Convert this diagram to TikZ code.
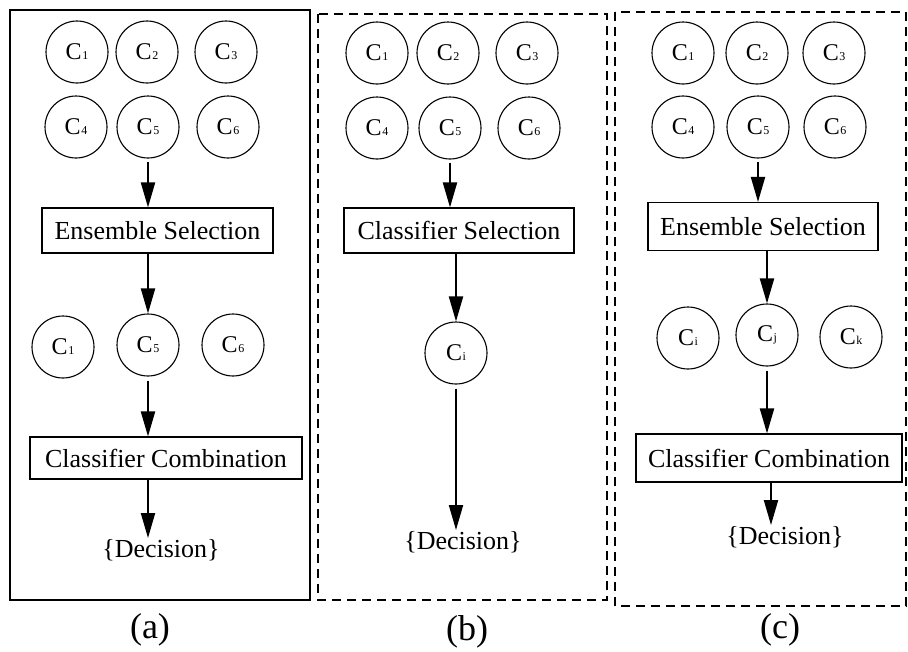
\documentclass[tikz,border=0pt]{standalone}
\usepackage{fontspec}
\setmainfont{Liberation Serif}
\usetikzlibrary{arrows.meta, positioning}

% classifier label: C with a small index on the baseline
\newcommand{\cname}[1]{C\kern0.5pt{\fontsize{12}{12}\selectfont #1}}

\tikzset{
  clf/.style={circle, draw, line width=1.1pt, minimum size=62pt, inner sep=0pt, font=\fontsize{24}{26}\selectfont},
  stepbox/.style={rectangle, draw, line width=1.1pt, inner sep=0pt, font=\fontsize{26}{28}\selectfont},
  lbl/.style={inner sep=1pt, font=\fontsize{26}{28}\selectfont},
  captxt/.style={inner sep=0pt, font=\fontsize{36}{38}\selectfont},
  arr/.style={line width=2pt, -{Triangle[length=25pt,width=14pt]}},
  framea/.style={line width=1.8pt},
  frameb/.style={line width=1.8pt, dash pattern=on 9pt off 6pt},
}

\begin{document}
\begin{tikzpicture}[x=1pt, y=-1pt]
		\useasboundingbox (0,0) rectangle (908,651);
		% (a): ensemble selection, then combination
		\draw[framea] (10,10) rectangle (310,600);
		\node[clf](A1) at (77,52){\cname{1}};
		\node[clf](A2) at (147,52){\cname{2}};
		\node[clf](A3) at (226,52){\cname{3}};
		\node[clf](A4) at (76,127){\cname{4}};
		\node[clf](A5) at (148,127){\cname{5}};
		\node[clf](A6) at (228,127){\cname{6}};
		\node[stepbox, minimum width=231pt, minimum height=45pt](AES) at (157.5,230.5){Ensemble Selection};
		\node[clf](AB1) at (63,347){\cname{1}};
		\node[clf](AB5) at (148,345){\cname{5}};
		\node[clf](AB6) at (233,345){\cname{6}};
		\node[stepbox, minimum width=272pt, minimum height=42pt](ACC) at (166,458){Classifier Combination};
		\node[lbl](ADEC) at (161,550){\{Decision\}};
		\node[captxt](ACAP) at (150,630){(a)};
		\draw[arr] ([yshift=-3pt]A5.south) -- (A5.south |- AES.north);
		\draw[arr] (AES.south -| AB5) -- (AB5.north);
		\draw[arr] ([yshift=-4pt]AB5.south) -- (AB5.south |- ACC.north);
		\draw[arr] (ACC.south -| AB5) -- (AB5 |- ADEC.north);
		% (b): one classifier is selected
		\draw[frameb] (318,14) rectangle (607,600);
		\node[clf](B1) at (377,53){\cname{1}};
		\node[clf](B2) at (448,53){\cname{2}};
		\node[clf](B3) at (527,53){\cname{3}};
		\node[clf](B4) at (377,128){\cname{4}};
		\node[clf](B5) at (450,128){\cname{5}};
		\node[clf](B6) at (529,128){\cname{6}};
		\node[stepbox, minimum width=230pt, minimum height=45pt](BCS) at (459,230.5){Classifier Selection};
		\node[clf](BCI) at (456,353){\cname{i}};
		\node[lbl](BDEC) at (463,542){\{Decision\}};
		\node[captxt](BCAP) at (467,632){(b)};
		\draw[arr] ([yshift=-3pt]B5.south) -- (B5.south |- BCS.north);
		\draw[arr] (BCS.south -| BCI) -- (BCI.north);
		\draw[arr] ([yshift=-4pt]BCI.south) -- (BCI.south |- BDEC.north);
		% (c): selection of an ensemble, then combination
		\draw[frameb] (615,12) rectangle (906,606);
		\node[clf](C1) at (683,53){\cname{1}};
		\node[clf](C2) at (757,53){\cname{2}};
		\node[clf](C3) at (834,53){\cname{3}};
		\node[clf](C4) at (683,127){\cname{4}};
		\node[clf](C5) at (758,127){\cname{5}};
		\node[clf](C6) at (835,127){\cname{6}};
		\node[stepbox, minimum width=230pt, minimum height=48pt](CES) at (763,226.5){Ensemble Selection};
		\node[clf](CI) at (688,338){\cname{i}};
		\node[clf](CJ) at (767,335){\cname{j}};
		\node[clf](CK) at (851,337){\cname{k}};
		\node[stepbox, minimum width=266pt, minimum height=48pt](CCC) at (769,458){Classifier Combination};
		\node[lbl](CDEC) at (785,537){\{Decision\}};
		\node[captxt](CCAP) at (780,630){(c)};
		\draw[arr] ([yshift=-3pt]C5.south) -- (C5.south |- CES.north);
		\draw[arr] (CES.south -| CJ) -- (CJ.north);
		\draw[arr] ([yshift=-4pt]CJ.south) -- (CJ.south |- CCC.north);
		\draw[arr] (CCC.south -| CJ.south) ++(4,0) coordinate(CD0) -- (CD0 |- CDEC.north);
	\end{tikzpicture}
\end{document}
